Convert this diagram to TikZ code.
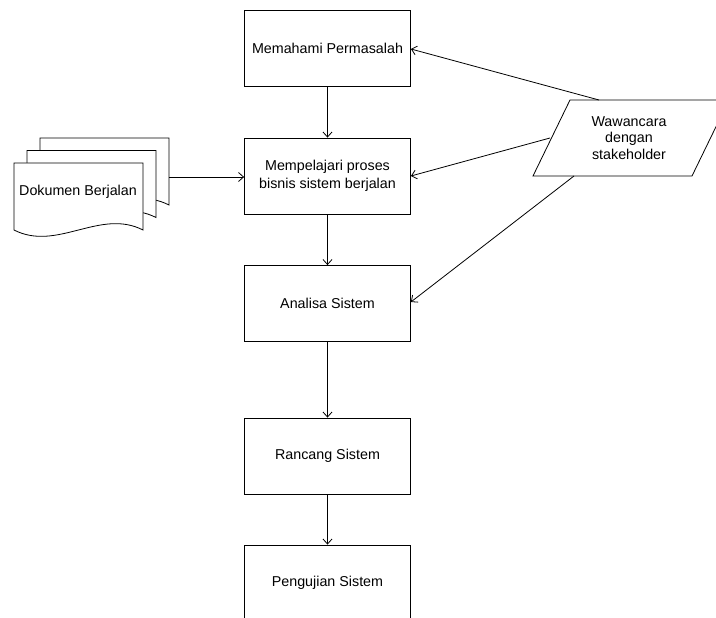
\documentclass[tikz,border=0pt]{standalone}
\usepackage{fontspec}
\setmainfont{Liberation Sans}
\usetikzlibrary{arrows.meta}
\begin{document}
\begin{tikzpicture}[x=1pt,y=-1pt,
  line width=0.8pt,
  font=\fontsize{14.3}{17.5}\selectfont,
  flow/.style={-{Straight Barb[length=5pt,width=9pt,line width=0.8pt]}},
  process/.style={draw, fill=white, minimum width=166pt, minimum height=76pt,
    inner sep=0pt, align=center},
  page/.style={draw, fill=white}]
\clip (0,0) rectangle (716,618);
\fill[white] (0,0) rectangle (716,618);

% process boxes
\node[process] (p1) at (327.5,48)  {Memahami Permasalah};
\node[process] (p2) at (327.5,176) {Mempelajari proses\\bisnis sistem berjalan};
\node[process] (p3) at (327.5,303.5) {Analisa Sistem};
\node[process] (p4) at (327.5,456) {Rancang Sistem};
\node[process] (p5) at (327.5,583) {Pengujian Sistem};

% stacked document (back pages first)
\foreach \dx/\dy in {26/-25, 13/-12.5, 0/0} {
  \path[page] (14+\dx,163+\dy) -- (143+\dx,163+\dy) -- (143+\dx,230+\dy)
    .. controls (100+\dx,208+\dy) and (57+\dx,252+\dy) .. (14+\dx,230+\dy) -- cycle;
}
\node (doc) at (78,192) {Dokumen Berjalan};
\coordinate (docout) at (169,177);

% input/output parallelogram
\path[page] (533,176) -- (570,100) -- (729,100) -- (692,176) -- cycle;
\node[align=center, font=\fontsize{14.3}{16.5}\selectfont] (wawan) at (629,138)
  {Wawancara\\dengan\\stakeholder};
\coordinate (wtop) at (599,100);
\coordinate (wleft) at (550,138);
\coordinate (wbot) at (574,176);

% connectors
\draw[flow] (p1) -- (p2);
\draw[flow] (p2) -- (p3);
\draw[flow] (p3) -- (p4);
\draw[flow] (p4) -- (p5);
\draw[flow] (docout) -- (docout -| p2.west);
\draw[flow] (wtop) -- (p1.east |- 0,49);
\draw[flow] (wleft) -- (p2.east |- 0,176);
\draw[flow] (wbot) -- (p3.east |- 0,302);
\end{tikzpicture}
\end{document}
